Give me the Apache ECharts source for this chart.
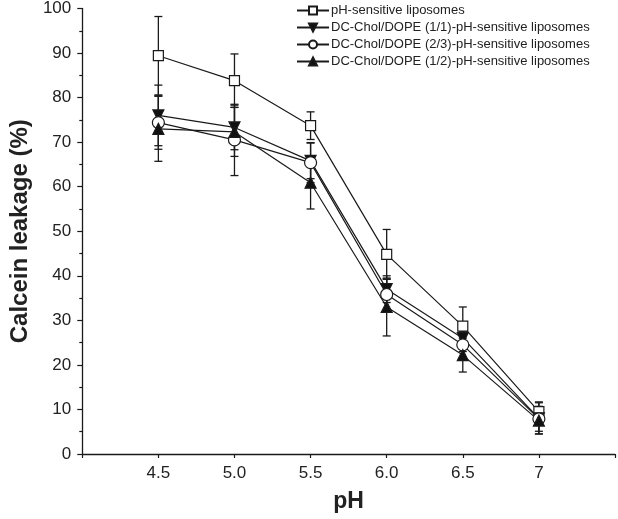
<!DOCTYPE html>
<html><head><meta charset="utf-8">
<script src="https://cdn.jsdelivr.net/npm/echarts@6/dist/echarts.min.js"></script>
<style>html,body{margin:0;padding:0;background:#fff}#c{width:618px;height:519px}</style>
</head><body><div id="c"></div>
<script>
const xValues = [4.5, 5.0, 5.5, 6.0, 6.5, 7.0];
const seriesNames = [
  'pH-sensitive liposomes',
  'DC-Chol/DOPE (1/1)-pH-sensitive liposomes',
  'DC-Chol/DOPE (2/3)-pH-sensitive liposomes',
  'DC-Chol/DOPE (1/2)-pH-sensitive liposomes'
];
const sqMean = [89.4, 83.8, 73.7, 44.8, 28.7, 9.5];
const sqErr  = [8.8, 6.0, 3.1, 5.6, 4.3, 2.2];
const tdMean = [76.0, 73.3, 65.8, 37.0, 26.0, 8.0];
const tdErr  = [6.8, 5.0, 4.0, 3.0, 3.0, 3.5];
const ciMean = [74.4, 70.5, 65.4, 35.8, 24.5, 7.9];
const ciErr  = [6.0, 8.0, 4.5, 3.5, 3.0, 2.8];
const tuMean = [73.0, 72.3, 60.9, 33.0, 22.2, 7.5];
const tuErr  = [7.3, 5.5, 5.9, 6.5, 3.8, 3.0];
const yTicks = [0, 10, 20, 30, 40, 50, 60, 70, 80, 90, 100];
const xTickLabels = {'4.5':'4.5','5':'5.0','5.5':'5.5','6':'6.0','6.5':'6.5','7':'7'};

const means = [sqMean, tdMean, ciMean, tuMean];
const errs = [sqErr, tdErr, ciErr, tuErr];
const symbols = ['rect', 'triangle', 'circle', 'triangle'];
const rotates = [0, 180, 0, 0];
const fills = ['#fff', '#111', '#fff', '#111'];
const sizes = [10, 11, 12, 11];
const ink = '#1a1a1a';
const font = 'Liberation Sans, Arial, sans-serif';

const series = [];
means.forEach((m, i) => {
  series.push({
    type: 'custom',
    name: 'err' + i,
    z: 1,
    silent: true,
    data: xValues.map((x, j) => [x, m[j] - errs[i][j], m[j] + errs[i][j]]),
    renderItem: function (params, api) {
      const lo = api.coord([api.value(0), api.value(1)]);
      const hi = api.coord([api.value(0), api.value(2)]);
      const w = 4;
      const st = {stroke: ink, lineWidth: 1.3};
      return {type: 'group', children: [
        {type: 'line', shape: {x1: lo[0], y1: lo[1], x2: hi[0], y2: hi[1]}, style: st},
        {type: 'line', shape: {x1: lo[0]-w, y1: lo[1], x2: lo[0]+w, y2: lo[1]}, style: st},
        {type: 'line', shape: {x1: hi[0]-w, y1: hi[1], x2: hi[0]+w, y2: hi[1]}, style: st}
      ]};
    }
  });
});
means.forEach((m, i) => {
  series.push({
    type: 'line',
    name: seriesNames[i],
    z: 3,
    data: xValues.map((x, j) => [x, m[j]]),
    symbol: symbols[i],
    symbolRotate: rotates[i],
    symbolSize: sizes[i],
    showAllSymbol: true,
    lineStyle: {color: ink, width: 1.2},
    itemStyle: {color: fills[i], borderColor: ink, borderWidth: 1.2},
    emphasis: {disabled: true},
    animation: false
  });
});

const chart = echarts.init(document.getElementById('c'), null, {renderer: 'canvas'});
chart.setOption({
  animation: false,
  backgroundColor: '#fff',
  grid: {left: 68, right: 2, top: 7, bottom: 65, containLabel: false},
  legend: {
    data: seriesNames,
    orient: 'vertical',
    left: 291,
    top: -1,
    itemWidth: 32,
    itemHeight: 10,
    itemGap: 4,
    textStyle: {fontFamily: font, fontSize: 13, color: '#222', padding: [0,0,0,-3]},
    selectedMode: false
  },
  xAxis: {
    type: 'value',
    min: 4, max: 7.5, interval: 0.5,
    splitLine: {show: false},
    axisLine: {lineStyle: {color: ink, width: 1.3}},
    axisTick: {show: true, length: 4, inside: false, lineStyle: {color: ink, width: 1.2}},
    axisLabel: {
      fontFamily: font, fontSize: 17, color: '#222', margin: 11,
      formatter: v => xTickLabels[String(v)] || ''
    },
    name: 'pH',
    nameLocation: 'middle',
    nameGap: 36,
    nameTextStyle: {fontFamily: font, fontSize: 23, fontWeight: 'bold', color: '#222'}
  },
  yAxis: {
    type: 'value',
    min: yTicks[0], max: yTicks[yTicks.length-1], interval: 10,
    splitLine: {show: false},
    axisLine: {show: true, lineStyle: {color: ink, width: 1.3}},
    axisTick: {show: true, length: 5, lineStyle: {color: ink, width: 1.2}},
    minorTick: {show: true, splitNumber: 2, length: 3, lineStyle: {color: ink, width: 1.2}},
    axisLabel: {fontFamily: font, fontSize: 17, color: '#222', margin: 11},
    name: 'Calcein leakage (%)',
    nameLocation: 'middle',
    nameGap: 37,
    nameTextStyle: {fontFamily: font, fontSize: 24, fontWeight: 'bold', color: '#222'}
  },
  series: series
});
</script>
</body></html>
